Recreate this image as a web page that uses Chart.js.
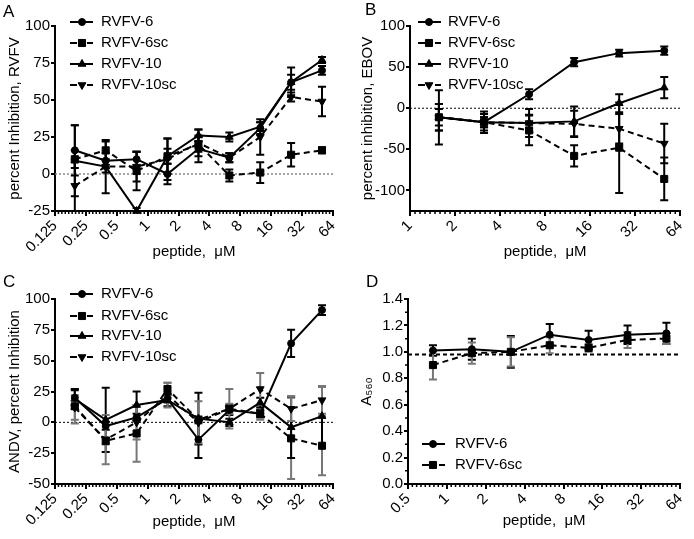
<!DOCTYPE html>
<html>
<head>
<meta charset="utf-8">
<script src="https://cdn.jsdelivr.net/npm/chart.js@4.4.1/dist/chart.umd.min.js"></script>
<style>
  body { margin: 0; background: #fff; }
  #wrap { position: relative; width: 694px; height: 539px; }
  canvas { position: absolute; }
  .tag { position: absolute; font: 17px Arial, "Liberation Sans", sans-serif; line-height: 17px; color: #000; }
</style>
</head>
<body>
<div id="wrap">
  <canvas id="chartA" width="347" height="270" style="left:0;top:0"></canvas>
  <canvas id="chartB" width="347" height="270" style="left:347px;top:0"></canvas>
  <canvas id="chartC" width="347" height="269" style="left:0;top:270px"></canvas>
  <canvas id="chartD" width="347" height="269" style="left:347px;top:270px"></canvas>
  <div class="tag" style="left:3px;top:3px">A</div>
  <div class="tag" style="left:365px;top:1px">B</div>
  <div class="tag" style="left:3px;top:273px">C</div>
  <div class="tag" style="left:366px;top:273px">D</div>
</div>
<script>
// series and concentrations
const seriesNames = ['RVFV-6', 'RVFV-6sc', 'RVFV-10', 'RVFV-10sc'];
const concAC = [0.195, 0.39, 0.78, 1.56, 3.125, 6.25, 12.5, 25, 50];
const concB = [1.56, 3.125, 6.25, 12.5, 25, 50];
const concD = [0.78, 1.56, 3.125, 6.25, 12.5, 25, 50];

const xTicksAC = [0.125, 0.25, 0.5, 1, 2, 4, 8, 16, 32, 64];
const xTicksB = [1, 2, 4, 8, 16, 32, 64];
const xTicksD = [0.5, 1, 2, 4, 8, 16, 32, 64];
const yTicksA = [-25, 0, 25, 50, 75, 100];
const yTicksB = [-100, -50, 0, 50, 100];
const yTicksC = [-50, -25, 0, 25, 50, 75, 100];
const yTicksD = [0, 0.2, 0.4, 0.6, 0.8, 1.0, 1.2, 1.4];

// A - RVFV
const aR6 = [16, 9, 10, 0, 17, 11, 31, 62, 70];
const aR6err = [17, 5, 5, 7, 9, 3, 4, 10, 3];
const aR6sc = [10, 16, 2, 12, 20, -1, 1, 13, 16];
const aR6scErr = [6, 6, 13, 5, 5, 4, 7, 8, 2];
const aR10 = [9, 5, -25, 12, 26, 25, 32, 62, 77];
const aR10err = [24, 4, 2, 12, 4, 3, 3, 5, 2];
const aR10sc = [-8, 5, 5, 10, 21, 11, 25, 52, 49];
const aR10scErr = [18, 18, 10, 14, 9, 3, 12, 3, 10];

// B - EBOV
const bR6 = [-11, -17, 17, 56, 67, 70];
const bR6err = [10, 6, 6, 5, 4, 5];
const bR6sc = [-11, -17, -27, -58, -48, -86];
const bR6scErr = [16, 13, 18, 13, 55, 26];
const bR10 = [-11, -17, -18, -16, 6, 25];
const bR10err = [33, 6, 10, 18, 11, 13];
const bR10sc = [-11, -17, -18, -19, -25, -43];
const bR10scErr = [16, 10, 17, 16, 18, 24];

// C - ANDV
const cR6 = [20, -3, 4, 19, -14, 10, 7, 64, 91];
const cR6err = [6, 3, 3, 3, 15, 4, 3, 11, 4];
const cR6sc = [13, -15, -9, 27, 2, 11, 7, -13, -19];
const cR6scErr = [14, 3, 23, 5, 3, 4, 5, 33, 24];
const cR10 = [19, 2, 14, 18, 3, 0, 16, -4, 5];
const cR10err = [8, 26, 11, 5, 21, 3, 4, 25, 24];
const cR10sc = [12, -14, 0, 22, 0, 11, 27, 11, 18];
const cR10scErr = [10, 20, 14, 10, 17, 16, 13, 10, 11];

// D - A560
const dR6 = [1.01, 1.02, 1.00, 1.13, 1.09, 1.13, 1.14];
const dR6err = [0.04, 0.08, 0.12, 0.08, 0.07, 0.07, 0.08];
const dR6sc = [0.90, 0.99, 1.00, 1.05, 1.03, 1.09, 1.10];
const dR6scErr = [0.11, 0.08, 0.11, 0.06, 0.03, 0.06, 0.04];

Chart.defaults.font.family = 'Arial, "Liberation Sans", sans-serif';
Chart.defaults.font.size = 15;
Chart.defaults.color = '#000';

const looks = [
  { pointStyle: 'circle', radius: 3.5, rotation: 0, dash: [] },
  { pointStyle: 'rect', radius: 5, rotation: 0, dash: [6, 4] },
  { pointStyle: 'triangle', radius: 4.5, rotation: 0, dash: [] },
  { pointStyle: 'triangle', radius: 4.5, rotation: 180, dash: [6, 4] }
];

const extras = {
  id: 'extras',
  beforeDatasetsDraw(chart, args, opts) {
    const { ctx, chartArea: a, scales: { x, y } } = chart;
    if (opts.ref) {
      const py = y.getPixelForValue(opts.ref.value);
      ctx.save();
      ctx.strokeStyle = opts.ref.color;
      ctx.lineWidth = opts.ref.width;
      ctx.setLineDash(opts.ref.dash);
      ctx.beginPath();
      ctx.moveTo(a.left, py);
      ctx.lineTo(a.right, py);
      ctx.stroke();
      ctx.restore();
    }
    // error bars
    ctx.save();
    ctx.beginPath();
    ctx.rect(a.left - 10, 0, a.width + 20, a.bottom);
    ctx.clip();
    ctx.lineWidth = 2;
    ctx.setLineDash([]);
    chart.data.datasets.forEach(ds => {
      ctx.strokeStyle = ds.errColor;
      ds.data.forEach((p, j) => {
        const e = ds.errors[j];
        if (!e) return;
        const px = x.getPixelForValue(p.x);
        const t = y.getPixelForValue(p.y + e);
        const b = y.getPixelForValue(p.y - e);
        ctx.beginPath();
        ctx.moveTo(px, t); ctx.lineTo(px, b);
        ctx.moveTo(px - 4, t); ctx.lineTo(px + 4, t);
        ctx.moveTo(px - 4, b); ctx.lineTo(px + 4, b);
        ctx.stroke();
      });
    });
    ctx.restore();
  },
  afterDraw(chart, args, opts) {
    const { ctx, chartArea: a, scales: { x, y } } = chart;
    ctx.save();
    ctx.strokeStyle = '#000';
    ctx.lineWidth = 1.5;
    // minor ticks on x (log2 subdivisions)
    const xt = opts.xTicks;
    ctx.beginPath();
    for (let i = 0; i < xt.length - 1; i++) {
      for (let k = 1; k < 9; k++) {
        const px = x.getPixelForValue(xt[i] * Math.pow(2, k / 9));
        ctx.moveTo(px, a.bottom);
        ctx.lineTo(px, a.bottom + 3);
      }
    }
    if (opts.minorY) {
      const yt = opts.yTicks;
      for (let i = 0; i < yt.length - 1; i++) {
        const py = y.getPixelForValue((yt[i] + yt[i + 1]) / 2);
        ctx.moveTo(a.left, py);
        ctx.lineTo(a.left - 3, py);
      }
    }
    ctx.stroke();

    // legend
    const lg = opts.legend;
    ctx.font = '15px Arial, "Liberation Sans", sans-serif';
    ctx.textBaseline = 'middle';
    ctx.fillStyle = '#000';
    chart.data.datasets.forEach((ds, i) => {
      const ly = lg.rows[i];
      const lk = ds.look;
      ctx.lineWidth = 2;
      ctx.beginPath();
      if (lk.dash.length) {
        ctx.moveTo(lg.x0, ly); ctx.lineTo(lg.x0 + 7, ly);
        ctx.moveTo(lg.x1 - 6, ly); ctx.lineTo(lg.x1, ly);
      } else {
        ctx.moveTo(lg.x0, ly); ctx.lineTo(lg.x1, ly);
      }
      ctx.stroke();
      ctx.lineWidth = 1;
      Chart.helpers.drawPoint(ctx, { pointStyle: lk.pointStyle, radius: lk.radius, rotation: lk.rotation, borderWidth: 1 }, lg.xm, ly);
      ctx.fillText(ds.label, lg.xt, ly);
    });
    ctx.restore();
  }
};

function makeSets(conc, vals, errs, errColors) {
  return vals.map((v, i) => ({
    label: seriesNames[i],
    data: conc.map((c, j) => ({ x: c, y: v[j] })),
    errors: errs[i],
    errColor: errColors[i],
    look: looks[i],
    borderColor: '#000',
    backgroundColor: '#000',
    borderWidth: 2,
    borderDash: looks[i].dash,
    pointStyle: looks[i].pointStyle,
    pointRadius: looks[i].radius,
    pointRotation: looks[i].rotation,
    pointBorderWidth: 1,
    pointBackgroundColor: '#000',
    pointBorderColor: '#000',
    tension: 0,
    fill: false,
    clip: false
  }));
}

function makeChart(id, o) {
  return new Chart(document.getElementById(id), {
    type: 'line',
    data: { datasets: o.datasets },
    plugins: [extras],
    options: {
      responsive: false,
      animation: false,
      devicePixelRatio: 1,
      layout: { padding: o.pad },
      plugins: {
        legend: { display: false },
        tooltip: { enabled: false },
        extras: { ref: o.ref, legend: o.legend, xTicks: o.xTicks, yTicks: o.yTicks, minorY: o.minorY }
      },
      scales: {
        x: {
          type: 'logarithmic',
          min: o.xTicks[0],
          max: o.xTicks[o.xTicks.length - 1],
          afterBuildTicks: ax => { ax.ticks = o.xTicks.map(v => ({ value: v })); },
          afterFit: ax => { ax.height = o.xHeight; },
          ticks: { minRotation: 45, maxRotation: 45, autoSkip: false, padding: 1, color: '#000', callback: v => String(v) },
          grid: { drawOnChartArea: false, color: '#000', lineWidth: 2, tickLength: 5 },
          border: { color: '#000', width: 2 },
          title: { display: true, text: 'peptide,  μM', color: '#000', padding: 0 }
        },
        y: {
          type: 'linear',
          min: o.yMin,
          max: o.yMax,
          afterBuildTicks: ax => { ax.ticks = o.yTicks.map(v => ({ value: v })); },
          afterFit: ax => { ax.width = o.yWidth; },
          ticks: { padding: 1, color: '#000', callback: o.yFmt || (v => String(v)) },
          grid: { drawOnChartArea: false, color: '#000', lineWidth: 2, tickLength: 4 },
          border: { color: '#000', width: 2 },
          title: { display: true, text: o.yTitle, color: '#000', padding: 0 }
        }
      }
    }
  });
}

const blk = '#000', gry = '#777';

makeChart('chartA', {
  datasets: makeSets(concAC, [aR6, aR6sc, aR10, aR10sc], [aR6err, aR6scErr, aR10err, aR10scErr], [blk, blk, blk, blk]),
  xTicks: xTicksAC, yTicks: yTicksA, yMin: -25, yMax: 100,
  yTitle: 'percent Inhibition, RVFV',
  pad: { left: 6, top: 26, right: 14, bottom: 9 },
  yWidth: 49, xHeight: 50,
  ref: { value: 0, color: '#888', width: 1.5, dash: [2, 2] },
  legend: { x0: 70, x1: 93, xm: 82, xt: 101, rows: [22, 43, 64, 85] }
});

makeChart('chartB', {
  datasets: makeSets(concB, [bR6, bR6sc, bR10, bR10sc], [bR6err, bR6scErr, bR10err, bR10scErr], [blk, blk, blk, blk]),
  xTicks: xTicksB, yTicks: yTicksB, yMin: -125, yMax: 100,
  yTitle: 'percent inhibition, EBOV',
  pad: { left: 12, top: 26, right: 9, bottom: 9 },
  yWidth: 51, xHeight: 50,
  ref: { value: 0, color: '#000', width: 1, dash: [2, 2] },
  legend: { x0: 71, x1: 94, xm: 82, xt: 101, rows: [22, 43, 64, 85] }
});

makeChart('chartC', {
  datasets: makeSets(concAC, [cR6, cR6sc, cR10, cR10sc], [cR6err, cR6scErr, cR10err, cR10scErr], [blk, gry, blk, gry]),
  xTicks: xTicksAC, yTicks: yTicksC, yMin: -50, yMax: 100,
  yTitle: 'ANDV, percent Inhibition',
  pad: { left: 6, top: 29, right: 14, bottom: 8 },
  yWidth: 49, xHeight: 47,
  ref: { value: 0, color: '#000', width: 1, dash: [2, 2] },
  legend: { x0: 70, x1: 93, xm: 82, xt: 101, rows: [24, 46, 66, 87] }
});

makeChart('chartD', {
  datasets: makeSets(concD, [dR6, dR6sc], [dR6err, dR6scErr], [blk, gry]),
  xTicks: xTicksD, yTicks: yTicksD, yMin: 0, yMax: 1.4,
  yTitle: 'A₅₆₀',
  yFmt: v => v.toFixed(1),
  pad: { left: 11, top: 29, right: 9, bottom: 9 },
  yWidth: 50, xHeight: 46,
  minorY: true,
  ref: { value: 0.98, color: '#000', width: 2, dash: [4, 3] },
  legend: { x0: 75, x1: 98, xm: 86, xt: 108, rows: [174, 195] }
});
</script>
</body>
</html>
